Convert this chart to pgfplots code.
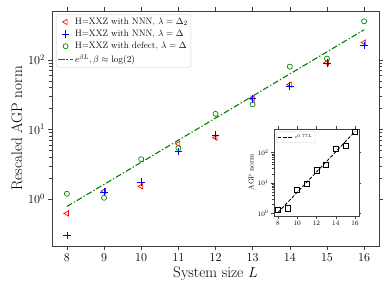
\documentclass[border=0pt]{standalone}
\usepackage{pgfplots}
\pgfplotsset{compat=1.18}
\definecolor{mgreen}{rgb}{0,0.5,0}
\definecolor{mblue}{rgb}{0,0,1}
\definecolor{mred}{rgb}{1,0,0}
\begin{document}
\begin{tikzpicture}
\path[use as bounding box] (0,0) rectangle (461pt,346pt);
\begin{axis}[
  at={(61.5pt,55.2pt)}, anchor=south west,
  scale only axis, width=386.5pt, height=277.8pt,
  ymode=log, xmin=7.6, xmax=16.4, ymin=0.211, ymax=502,
  xtick={8,...,16},
  ytick={1,10,100},
  tick align=outside,
  axis line style={black!75},
  every tick/.style={black!75},
  major tick length=5pt, minor tick length=3pt,
  ticklabel style={font=\fontsize{14}{16}\selectfont},
  xlabel={System size $L$},
  ylabel={Rescaled AGP norm},
  label style={font=\fontsize{18}{21}\selectfont},
  legend style={at={(0.012,0.985)}, anchor=north west, draw=black!20, rounded corners=2pt,
    font=\fontsize{11}{12.5}\selectfont, row sep=1.2pt, inner sep=2pt},
  legend cell align=left,
  clip=false,
]
\addplot[only marks, color=mred, mark=triangle, mark size=3.6pt, mark options={rotate=90, line width=0.8pt, draw=mred}]
 coordinates {(8,0.62) (9,1.30) (10,1.52) (11,6.2) (12,7.6) (13,27.7) (14,44) (15,91) (16,177)};
\addlegendentry{H=XXZ with NNN, $\lambda=\Delta_2$}
\addplot[only marks, color=mblue, mark=+, mark size=4.5pt, mark options={line width=0.8pt, draw=mblue}]
 coordinates {(8,0.30) (9,1.26) (10,1.75) (11,4.8) (12,8.3) (13,27.5) (14,41.7) (15,89) (16,160)};
\addlegendentry{H=XXZ with NNN, $\lambda=\Delta$}
\addplot[only marks, color=mgreen, mark=o, mark size=3pt, mark options={line width=0.8pt, draw=mgreen}]
 coordinates {(8,1.19) (9,1.04) (10,3.73) (11,5.4) (12,16.7) (13,22.9) (14,79.7) (15,104) (16,357)};
\addlegendentry{H=XXZ with defect, $\lambda=\Delta$}
\addplot[mgreen, line width=1.3pt, dash pattern=on 7pt off 2.5pt on 1.5pt off 2.5pt]
 coordinates {(8,0.78) (16,270)};
\addlegendentry{$e^{\beta L}, \beta\approx\log(2)$}
\end{axis}
\begin{axis}[
  at={(323.9pt,90.7pt)}, anchor=south west,
  scale only axis, width=100.4pt, height=102.8pt,
  ymode=log, xmin=7.6, xmax=16.4, ymin=0.81, ymax=600,
  xtick={8,10,...,16},
  ytick={1,10,100},
  tick align=outside,
  axis line style={black!75},
  every tick/.style={black!75},
  major tick length=3pt, minor tick length=1.8pt,
  ticklabel style={font=\fontsize{8.5}{10}\selectfont},
  ylabel={AGP norm},
  ylabel style={font=\fontsize{8.5}{10}\selectfont, yshift=-2pt},
  legend style={at={(0.03,0.97)}, anchor=north west, draw=black!20, rounded corners=1pt,
    font=\fontsize{5.5}{6.5}\selectfont, inner sep=1pt},
  legend cell align=left,
]
\addplot[black, line width=1pt, dash pattern=on 4pt off 2pt]
 coordinates {(8,1.05) (16,500)};
\addlegendentry{$e^{0.77L}$}
\addplot[only marks, black, mark=square, mark size=3pt, mark options={line width=0.8pt}, forget plot]
 coordinates {(8,1.3) (9,1.45) (10,6.0) (11,9.3) (12,26) (13,39) (14,130) (15,166) (16,500)};
\end{axis}
\end{tikzpicture}
\end{document}
